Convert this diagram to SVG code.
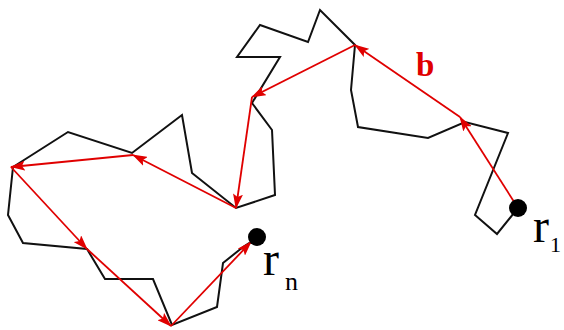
<svg xmlns="http://www.w3.org/2000/svg" width="564" height="330" viewBox="0 0 564 330">
<defs>
<style>
.chain{fill:none;stroke:#111;stroke-width:2;stroke-linejoin:miter}
.bond{fill:none;stroke:#e00000;stroke-width:1.8;marker-end:url(#ah)}
.lbl{font-family:"Liberation Serif","Times New Roman",serif;fill:#000}
</style>
<marker id="ah" viewBox="0 0 15 10" refX="14" refY="5" markerWidth="15" markerHeight="10" markerUnits="userSpaceOnUse" orient="auto">
<path d="M0,0 L15,5 L0,10 L3,5 z" fill="#e00000"/>
</marker>
</defs>
<g id="chain">
<polyline class="chain" points="518,208 497,234 475,215 508,133 465,122 428,138 358,127 351,90 355,45 320,10 308,42 260,25 237,57 280,57 252,103 272,130 275,195 236,208 192,173 182,115 132,153 68,132 13,167 8,215 23,243 87,249 105,279 153,279 172,325 217,307 223,263 243,247 257,238"/>
</g>
<g id="connectors">
<line class="bond" x1="518" y1="208" x2="460" y2="117"/>
<line class="bond" x1="460" y1="117" x2="355" y2="45"/>
<line class="bond" x1="355" y1="45" x2="252" y2="97"/>
<line class="bond" x1="252" y1="97" x2="236" y2="208"/>
<line class="bond" x1="236" y1="208" x2="133" y2="155"/>
<line class="bond" x1="133" y1="155" x2="11" y2="167"/>
<line class="bond" x1="11" y1="167" x2="87" y2="249"/>
<line class="bond" x1="87" y1="249" x2="171" y2="326"/>
<line class="bond" x1="171" y1="326" x2="251" y2="242"/>
</g>
<g id="r1">
<circle cx="518" cy="208" r="9" fill="#000"/>
<text class="lbl" x="533" y="242" font-size="48">r</text>
<text class="lbl" x="550" y="252" font-size="22">1</text>
</g>
<g id="rn">
<circle cx="257" cy="237" r="9" fill="#000"/>
<text class="lbl" x="263" y="275" font-size="48">r</text>
<text class="lbl" x="285" y="290" font-size="26">n</text>
</g>
<g id="b">
<text x="416" y="76" font-family="Liberation Serif,serif" font-weight="bold" font-size="33" fill="#e00000">b</text>
</g>
</svg>
